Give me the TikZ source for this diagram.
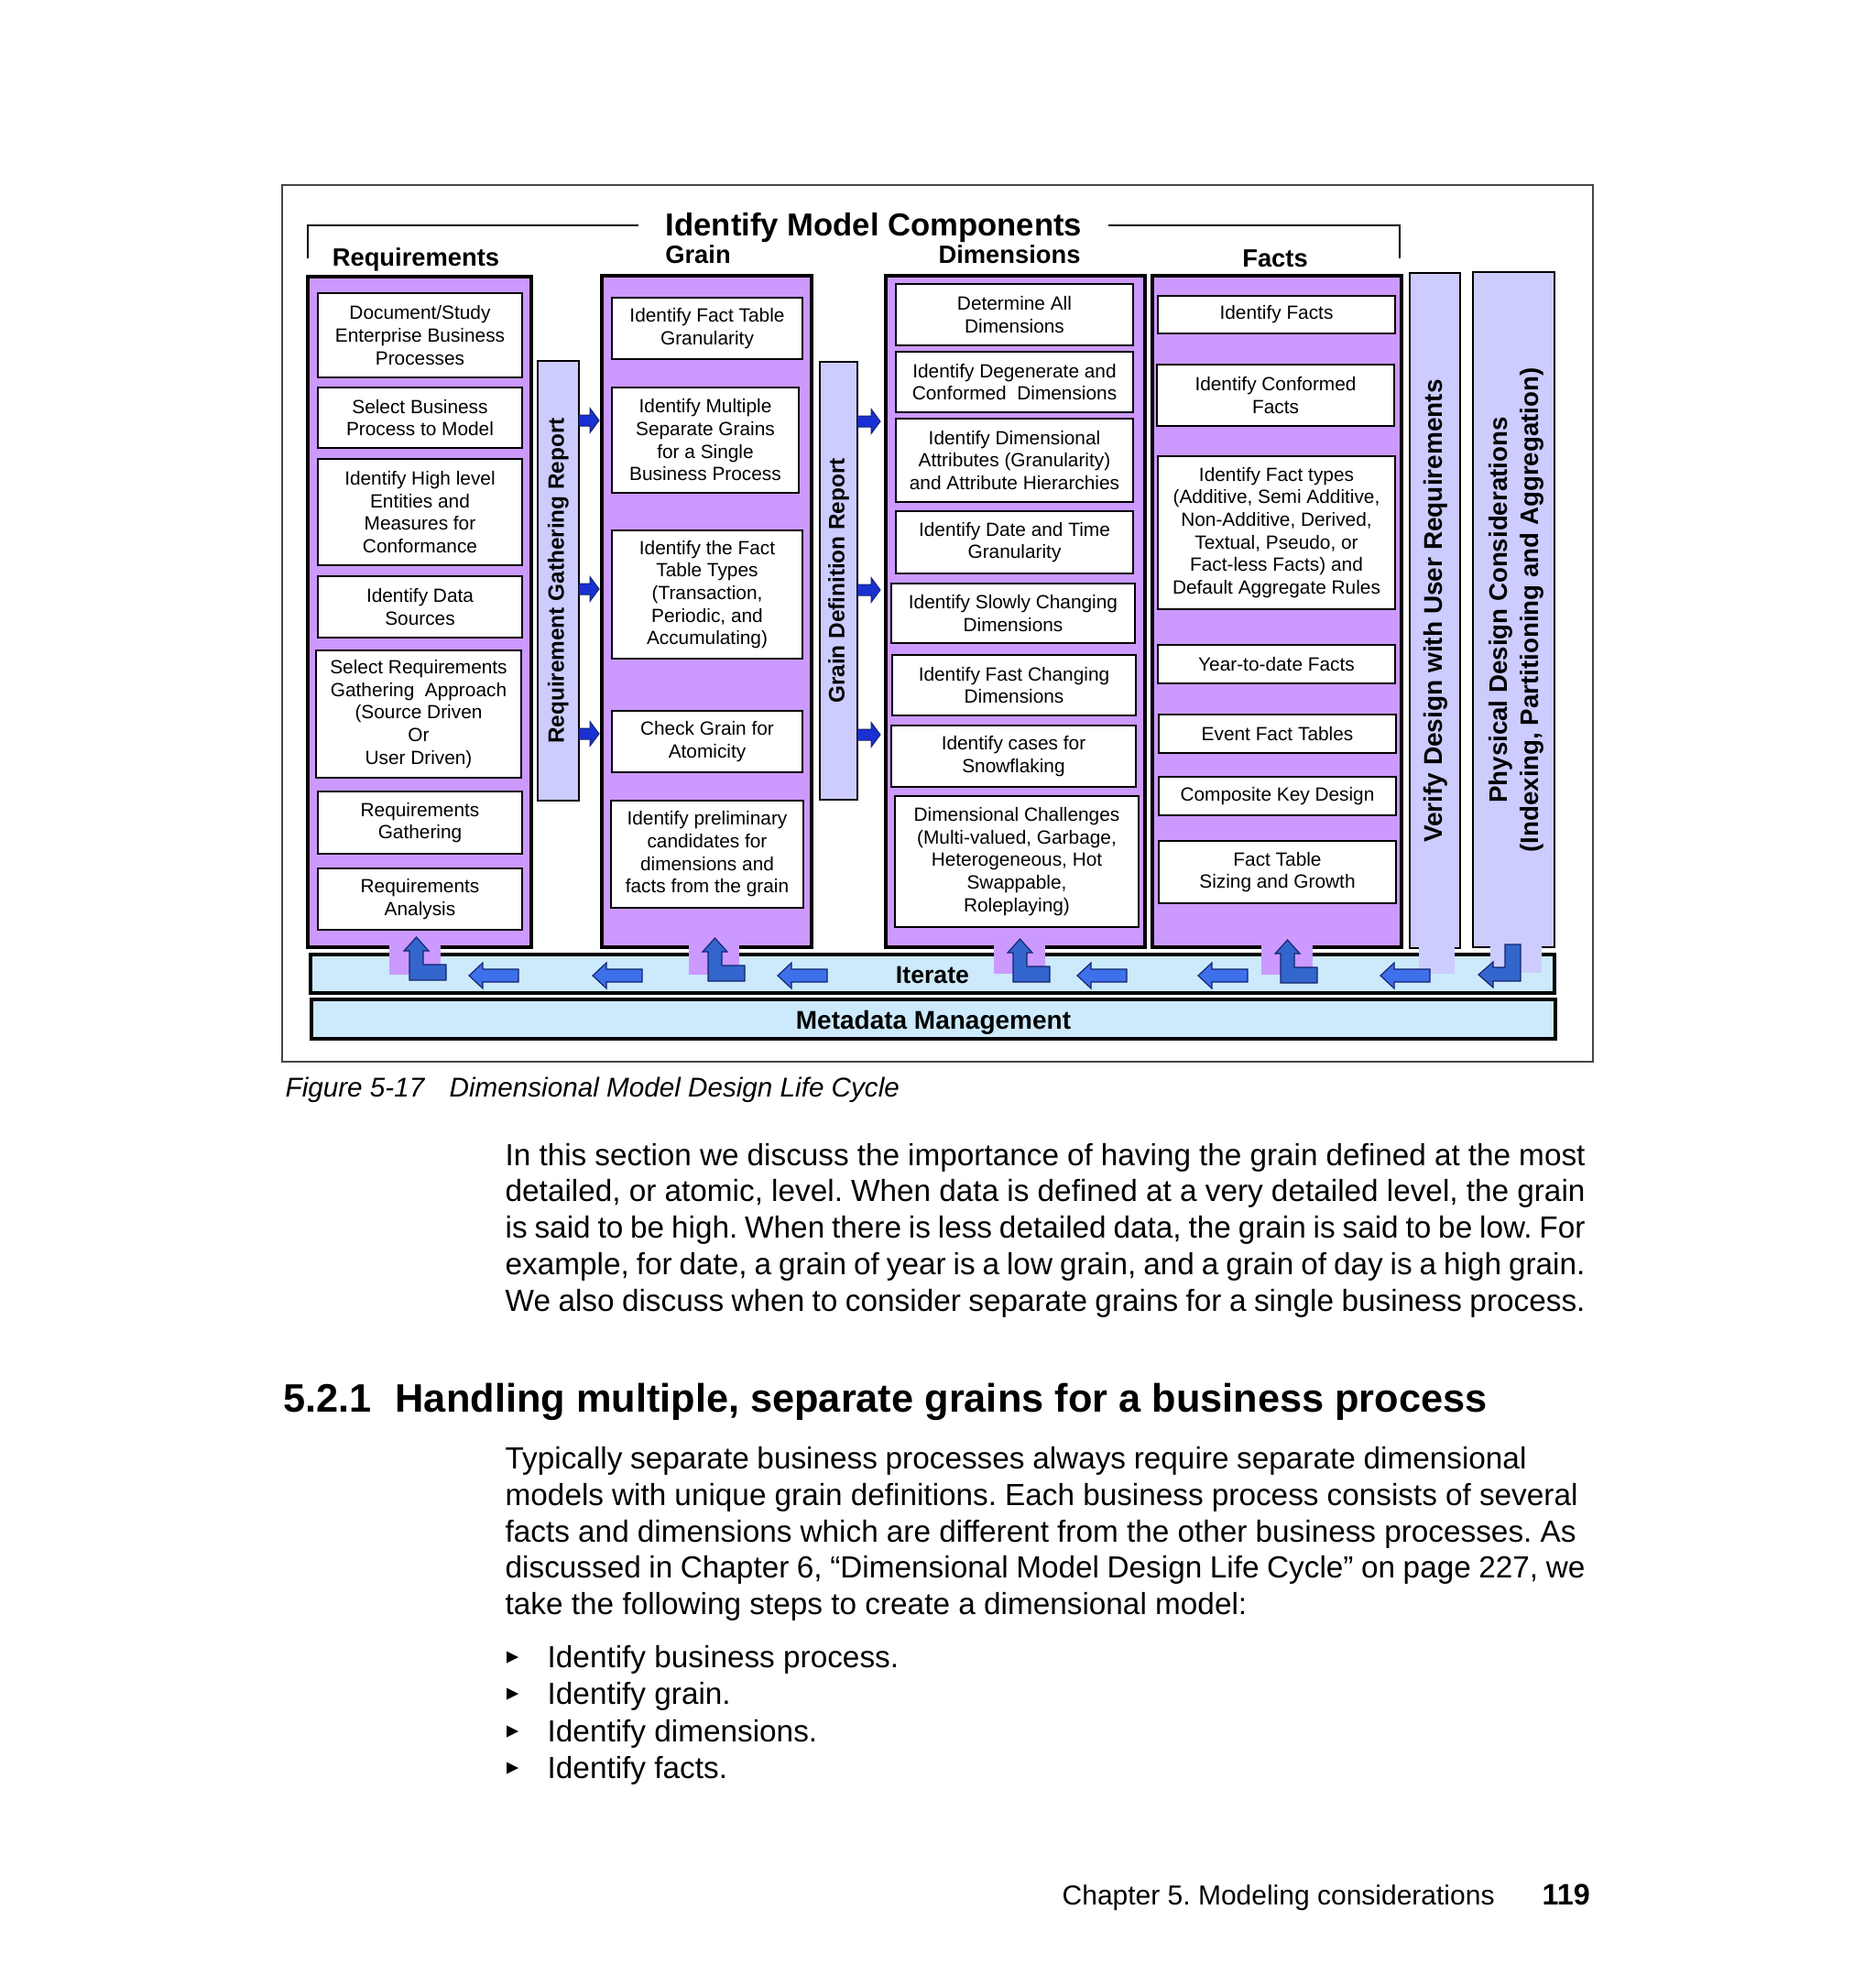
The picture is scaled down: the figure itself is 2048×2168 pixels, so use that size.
\documentclass[tikz,border=0pt]{standalone}
\usepackage{fontspec}
\setmainfont{Liberation Sans}
\usetikzlibrary{calc}
\frenchspacing
\definecolor{purp}{RGB}{204,153,255}
\definecolor{lav}{RGB}{204,204,255}
\definecolor{lblue}{RGB}{204,234,252}
\definecolor{lfill}{RGB}{51,102,204}
\definecolor{bfill}{RGB}{62,112,234}
\definecolor{rfill}{RGB}{26,48,210}
\definecolor{navy}{RGB}{20,36,110}
\newcommand\bx[7]{\node[#1,minimum width={(#5-#3)*0.3pt},minimum height={(#6-#4)*0.3pt}] (#2) at ({(#3+#5)/2},{(#4+#6)/2}) {#7};}
\newcommand\rarw[3]{\filldraw[rarwst] (#1,{#2-6}) -- ({#1+#3-10},{#2-6}) -- ({#1+#3-10},{#2-13.5}) -- ({#1+#3},#2) -- ({#1+#3-10},{#2+13.5}) -- ({#1+#3-10},{#2+6}) -- (#1,{#2+6}) -- cycle;}
\newcommand\larw[1]{\filldraw[larwst] (#1,1065) -- ({#1+15},1051) -- ({#1+15},1058) -- ({#1+54},1058) -- ({#1+54},1072) -- ({#1+15},1072) -- ({#1+15},1079) -- cycle;}
\newcommand\uarw[2]{\filldraw[uarwst] ({#1+7.5},#2) -- ({#1+21},{#2+15}) -- ({#1+15},{#2+15}) -- ({#1+15},{#2+30}) -- ({#1+40},{#2+30}) -- ({#1+40},{#2+47}) -- (#1,{#2+47}) -- (#1,{#2+15}) -- ({#1-6},{#2+15}) -- cycle;}
\newcommand\tl[3]{\node[anchor=base west,inner sep=0pt,font=\fontsize{10}{12}\selectfont] at (551,#1) {\makebox[#2pt][s]{#3}};}
\tikzset{
  wbox/.style={draw=black,line width=0.8pt,fill=white,align=center,inner sep=1pt,font=\fontsize{6.25}{7.4}\selectfont},
  pcol/.style={draw=black,line width=1pt,fill=purp},
  rbar/.style={draw=black,line width=0.8pt,fill=lav},
  band/.style={draw=black,line width=1pt,fill=lblue},
  hdr/.style={anchor=base,inner sep=0pt,font=\bfseries\fontsize{8.2}{10}\selectfont},
  rot/.style={rotate=90,inner sep=0pt,align=center},
  rarwst/.style={fill=rfill,draw=navy,line width=0.3pt},
  larwst/.style={fill=bfill,draw=navy,line width=0.35pt},
  uarwst/.style={fill=lfill,draw=navy,line width=0.35pt},
  body/.style={anchor=base west,inner sep=0pt,font=\fontsize{10}{12}\selectfont},
}
\begin{document}
\begin{tikzpicture}[x=0.3pt,y=-0.3pt]
\fill[white] (0,0) rectangle (2048,2168);
\useasboundingbox (0,0) rectangle (2048,2168);
% frame
\draw[line width=0.5pt,draw={rgb,255:red,70;green,70;blue,70}] (308,202) rectangle (1739,1159);
% bracket
\draw[line width=0.75pt] (336,282) -- (336,246) -- (697,246);
\draw[line width=0.75pt] (1210,246) -- (1528,246) -- (1528,282);
\node[anchor=base,inner sep=0pt,font=\bfseries\fontsize{10.4}{12}\selectfont] (title) at (954,257) {Identify Model Components};
\node[hdr] (hReq) at (454,290) {Requirements};
\node[hdr] (hGrain) at (762,287) {Grain};
\node[hdr] (hDim) at (1102,287) {Dimensions};
\node[hdr] (hFacts) at (1392,291) {Facts};
% columns
\bx{pcol}{colReq}{336}{302}{580}{1034}{}
\bx{pcol}{colGrain}{657}{301}{886}{1034}{}
\bx{pcol}{colDim}{967}{301}{1250}{1034}{}
\bx{pcol}{colFacts}{1258}{301}{1530}{1034}{}
% requirements boxes
\bx{wbox}{r1}{347}{320}{570}{412}{Document/Study\\Enterprise Business\\Processes}
\bx{wbox}{r2}{347}{423}{570}{489}{Select Business\\Process to Model}
\bx{wbox}{r3}{347}{501}{570}{617}{Identify High level\\Entities and\\Measures for\\Conformance}
\bx{wbox}{r4}{347}{629}{570}{696}{Identify Data\\Sources}
\bx{wbox}{r5}{345}{710}{569}{849}{Select Requirements\\Gathering\ \ Approach\\(Source Driven\\Or\\User Driven)}
\bx{wbox}{r6}{347}{864}{570}{932}{Requirements\\Gathering}
\bx{wbox}{r7}{347}{948}{570}{1015}{Requirements\\Analysis}
% grain boxes
\bx{wbox}{g1}{668}{325}{876}{392}{Identify Fact Table\\Granularity}
\bx{wbox}{g2}{668}{423}{872}{538}{Identify Multiple\\Separate Grains\\for a Single\\Business Process}
\bx{wbox}{g3}{668}{579}{876}{719}{Identify the Fact\\Table Types\\(Transaction,\\Periodic, and\\Accumulating)}
\bx{wbox}{g4}{668}{776}{876}{843}{Check Grain for\\Atomicity}
\bx{wbox}{g5}{667}{874}{877}{991}{Identify preliminary\\candidates for\\dimensions and\\facts from the grain}
% dimension boxes
\bx{wbox}{d1}{978}{310}{1237}{377}{Determine All\\Dimensions}
\bx{wbox}{d2}{978}{384}{1237}{450}{Identify Degenerate and\\Conformed\ \ Dimensions}
\bx{wbox}{d3}{978}{457}{1237}{548}{Identify Dimensional\\Attributes (Granularity)\\and Attribute Hierarchies}
\bx{wbox}{d4}{978}{558}{1237}{626}{Identify Date and Time\\Granularity}
\bx{wbox}{d5}{973}{637}{1239}{702}{Identify Slowly Changing\\Dimensions}
\bx{wbox}{d6}{974}{715}{1240}{781}{Identify Fast Changing\\Dimensions}
\bx{wbox}{d7}{973}{792}{1240}{859}{Identify cases for\\Snowflaking}
\bx{wbox}{d8}{977}{869}{1243}{1012}{Dimensional Challenges\\(Multi-valued, Garbage,\\Heterogeneous, Hot\\Swappable,\\Roleplaying)}
% fact boxes
\bx{wbox}{f1}{1264}{323}{1523}{364}{Identify Facts}
\bx{wbox}{f2}{1263}{398}{1522}{465}{Identify Conformed\\Facts}
\bx{wbox}{f3}{1264}{498}{1523}{665}{Identify Fact types\\(Additive, Semi Additive,\\Non-Additive, Derived,\\Textual, Pseudo, or\\Fact-less Facts) and\\Default Aggregate Rules}
\bx{wbox}{f4}{1264}{704}{1523}{746}{Year-to-date Facts}
\bx{wbox}{f5}{1265}{780}{1524}{822}{Event Fact Tables}
\bx{wbox}{f6}{1265}{848}{1524}{890}{Composite Key Design}
\bx{wbox}{f7}{1265}{918}{1524}{986}{Fact Table\\Sizing and Growth}
% report bars
\bx{rbar}{rgr}{587}{394}{632}{874}{}
\bx{rbar}{gdr}{895}{395}{936}{873}{}
\bx{rbar}{ver}{1539}{298}{1594}{1035}{}
\bx{rbar}{phy}{1608}{297}{1697}{1034}{}
\node[rot,font=\bfseries\fontsize{7.3}{9}\selectfont] (rgrT) at (rgr.center) {Requirement Gathering Report};
\node[rot,font=\bfseries\fontsize{7.3}{9}\selectfont] (gdrT) at (gdr.center) {Grain Definition Report};
\node[rot,font=\bfseries\fontsize{8.4}{10}\selectfont] (verT) at (1567,667) {Verify Design with User Requirements};
\node[rot,font=\bfseries\fontsize{8.3}{10.2}\selectfont] (phyT) at (1655,666) {Physical Design Considerations\\(Indexing, Partitioning and Aggregation)};
% right arrows
\rarw{632}{459}{22}
\rarw{632}{643}{22}
\rarw{632}{801}{22}
\rarw{936}{460}{25}
\rarw{936}{644}{25}
\rarw{936}{802}{25}
% bands
\bx{band}{iter}{339}{1042}{1697}{1084}{}
\bx{band}{meta}{340}{1091}{1698}{1134}{}
\node[anchor=base,inner sep=0pt,font=\bfseries\fontsize{8}{10}\selectfont] (iterT) at (1018,1073) {Iterate};
\node[anchor=base,inner sep=0pt,font=\bfseries\fontsize{8.4}{10}\selectfont] (metaT) at (1019,1123) {Metadata Management};
% tabs
\fill[purp] (425,1030) rectangle (481,1064);
\fill[purp] (752,1030) rectangle (807,1064);
\fill[purp] (1085,1030) rectangle (1141,1063);
\fill[purp] (1377,1030) rectangle (1433,1064);
\fill[lav] (1549,1031) rectangle (1588,1063);
\fill[lav] (1627,1030) rectangle (1683,1062);
% up arrows
\uarw{447}{1023}
\uarw{773}{1024}
\uarw{1106}{1025}
\uarw{1398}{1026}
% hooked arrow
\filldraw[uarwst] (1643,1031) -- (1660,1031) -- (1660,1071) -- (1630,1071) -- (1630,1078) -- (1614,1064) -- (1630,1050) -- (1630,1056) -- (1643,1056) -- cycle;
% left arrows
\larw{512}
\larw{647}
\larw{849}
\larw{1176}
\larw{1308}
\larw{1507}
% caption
\node[anchor=base west,inner sep=0pt,font=\itshape\fontsize{8.9}{10}\selectfont] (capA) at (311,1197) {Figure 5-17};
\node[anchor=base west,inner sep=0pt,font=\itshape\fontsize{8.9}{10}\selectfont] (capB) at (490,1197) {Dimensional Model Design Life Cycle};
% paragraph 1
\tl{1272}{353.7}{In this section we discuss the importance of having the grain defined at the most}
\tl{1311}{353.7}{detailed, or atomic, level. When data is defined at a very detailed level, the grain}
\tl{1351}{353.7}{is said to be high. When there is less detailed data, the grain is said to be low. For}
\tl{1391}{353.7}{example, for date, a grain of year is a low grain, and a grain of day is a high grain.}
\tl{1431}{353.7}{We also discuss when to consider separate grains for a single business process.}
% heading
\node[anchor=base west,inner sep=0pt,font=\bfseries\fontsize{13}{15}\selectfont] (secnum) at (309,1541) {5.2.1};
\node[anchor=base west,inner sep=0pt,font=\bfseries\fontsize{13}{15}\selectfont] (sectitle) at (431,1541) {Handling multiple, separate grains for a business process};
% paragraph 2
\tl{1603}{334.5}{Typically separate business processes always require separate dimensional}
\tl{1643}{351.3}{models with unique grain definitions. Each business process consists of several}
\tl{1683}{350.7}{facts and dimensions which are different from the other business processes. As}
\tl{1722}{353.7}{discussed in Chapter 6, “Dimensional Model Design Life Cycle” on page 227, we}
\node[body] (p2last) at (551,1762) {take the following steps to create a dimensional model:};
% bullets
\foreach \yy/\tx [count=\i] in {1820/{Identify business process.},1860/{Identify grain.},1901/{Identify dimensions.},1941/{Identify facts.}}{
  \fill (553,\yy-17.5) -- (566,\yy-11) -- (553,\yy-4.5) -- cycle;
  \node[body] (bul\i) at (597,\yy) {\tx};
}
% footer
\node[anchor=base west,inner sep=0pt,font=\fontsize{9}{11}\selectfont] (foot) at (1159,2079) {Chapter 5. Modeling considerations};
\node[anchor=base west,inner sep=0pt,font=\bfseries\fontsize{9.7}{11}\selectfont] (pgno) at (1683,2079) {119};
\end{tikzpicture}
\end{document}
